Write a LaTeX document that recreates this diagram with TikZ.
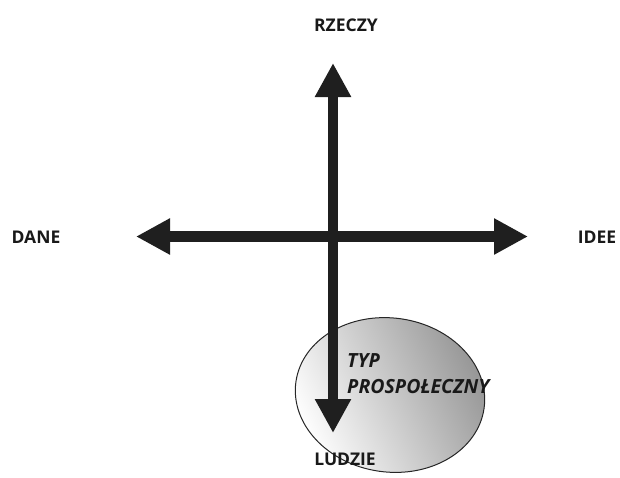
\documentclass[tikz,border=0pt]{standalone}
\usepackage{fontspec}
\setmainfont{Open Sans}
\usepackage{tikz}
\usetikzlibrary{arrows.meta,positioning,calc,shapes.geometric}

\begin{document}
\begin{tikzpicture}[
    x=1pt, y=-1pt,
    axis/.style={line width=10.5pt, draw=black!88, {Triangle[length=34pt,width=34pt]}-{Triangle[length=34pt,width=34pt]}},
    downaxis/.style={line width=10.5pt, draw=black!88, -{Triangle[length=34pt,width=34pt]}},
    label/.style={font=\fontsize{17.5}{20}\selectfont\bfseries, text=black!90, inner sep=0pt},
    typ/.style={font=\fontsize{19.5}{22}\selectfont\bfseries\itshape, text=black!90, inner sep=0pt, anchor=west},
    blob/.style={ellipse, draw=black!85, line width=1pt, minimum width=190pt, minimum height=154pt, rotate=-8,
        left color=white, right color=black!42, shading angle=115}
]
\useasboundingbox (0,0) rectangle (620,477);

% group ellipse
\node[blob] (group) at (390,395) {};

% axes
\coordinate (west) at (136,236.5);
\coordinate (east) at (528,236.5);
\coordinate (north) at (333,63);
\coordinate (south) at (333,433);
\coordinate (mid) at (333,236.5);
\draw[axis] (west) -- (east);
\draw[downaxis] (mid) -- (north);
\draw[downaxis] (mid) -- (south);

% labels
\node[label] (rzeczy) at (346,25) {RZECZY};
\node[label] (dane) at (36,237) {DANE};
\node[label] (idee) at (597,237) {IDEE};
\node[label] (ludzie) at (345,459) {LUDZIE};
\node[typ] (typ) at (347,361) {TYP};
\node[typ, below=11pt of typ.south west, anchor=north west] (prosp) {PROSPOŁECZNY};

\end{tikzpicture}
\end{document}
